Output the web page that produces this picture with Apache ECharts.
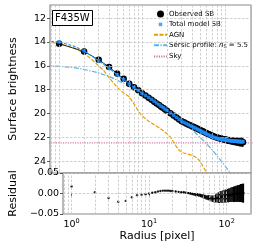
<!DOCTYPE html>
<html><head><meta charset="utf-8">
<script src="https://cdn.jsdelivr.net/npm/echarts@6/dist/echarts.min.js"></script>
<style>html,body{margin:0;padding:0;background:#fff}#c{width:265px;height:250px}</style>
</head><body><div id="c"></div>
<script>
// ---------- data ----------
const radius = [1,2,3,4,5,6,7,8,9,10,11,12,13,14,15,16,17,18,19,20,
  22,24,26,28,30,32,34,36,38,40,42,44,46,48,50,52,54,56,58,60,
  63,66,69,72,75,78,81,84,87,90,93,96,99,102,105,108,111,114,117,120,
  123,126,129,132,135,138,141,144,147,150,153,156,159,162,165];
const obsSB = [14.15,14.80,15.50,16.10,16.65,17.10,17.50,17.80,18.05,18.30,
  18.50,18.68,18.85,19.01,19.16,19.30,19.43,19.55,19.67,19.78,
  19.98,20.17,20.34,20.50,20.65,20.75,20.84,20.92,21.00,21.07,
  21.14,21.21,21.27,21.33,21.39,21.45,21.50,21.56,21.61,21.66,
  21.72,21.79,21.85,21.91,21.96,22.00,22.03,22.06,22.09,22.12,
  22.14,22.17,22.19,22.21,22.23,22.25,22.27,22.28,22.30,22.31,
  22.32,22.33,22.34,22.35,22.36,22.37,22.38,22.38,22.39,22.40,
  22.40,22.41,22.41,22.42,22.42];
const obsErr = [0.01,0.01,0.01,0.01,0.01,0.01,0.01,0.01,0.01,0.01,
  0.02,0.02,0.02,0.02,0.02,0.02,0.02,0.02,0.02,0.02,
  0.02,0.02,0.03,0.03,0.03,0.04,0.04,0.05,0.05,0.06,
  0.06,0.07,0.07,0.08,0.08,0.09,0.10,0.10,0.11,0.12,
  0.13,0.14,0.15,0.17,0.19,0.22,0.24,0.25,0.26,0.27,
  0.27,0.28,0.28,0.29,0.29,0.30,0.30,0.31,0.31,0.32,
  0.32,0.33,0.33,0.34,0.34,0.35,0.35,0.36,0.36,0.37,
  0.37,0.38,0.38,0.39,0.39];
const modelSB = [14.00,14.76,15.58,16.22,16.75,17.16,17.53,17.82,18.07,18.31,
  18.49,18.66,18.82,18.98,19.13,19.27,19.40,19.52,19.64,19.75,
  19.96,20.15,20.33,20.49,20.64,20.75,20.85,20.93,21.02,21.09,
  21.17,21.24,21.31,21.38,21.44,21.51,21.57,21.62,21.68,21.73,
  21.80,21.87,21.93,21.98,22.03,22.07,22.10,22.13,22.15,22.18,
  22.18,22.20,22.22,22.23,22.25,22.26,22.27,22.28,22.29,22.30,
  22.30,22.31,22.32,22.33,22.33,22.34,22.35,22.35,22.36,22.36,
  22.36,22.36,22.37,22.37,22.37];
const residual = [0.017,0.003,-0.011,-0.020,-0.018,-0.009,-0.004,-0.003,-0.002,0.000,
  0.002,0.003,0.005,0.006,0.007,0.007,0.007,0.007,0.006,0.006,
  0.005,0.004,0.003,0.003,0.002,0.001,0.000,-0.001,-0.002,-0.003,
  -0.003,-0.004,-0.005,-0.006,-0.007,-0.008,-0.009,-0.010,-0.010,-0.011,
  -0.012,-0.013,-0.013,-0.012,-0.011,-0.010,-0.009,-0.008,-0.008,-0.007,
  -0.007,-0.006,-0.006,-0.005,-0.005,-0.004,-0.004,-0.003,-0.003,-0.002,
  -0.002,-0.002,-0.001,-0.001,-0.001,0.000,0.000,0.000,0.000,0.001,
  0.001,0.001,0.001,0.001,0.001];
const residErr = [0.0005,0.0005,0.0005,0.0005,0.0005,0.0005,0.0005,0.0005,0.0005,0.0005,
  0.001,0.001,0.001,0.001,0.001,0.001,0.001,0.001,0.001,0.001,
  0.0015,0.0015,0.002,0.002,0.002,0.0025,0.0025,0.003,0.003,0.0035,
  0.0035,0.004,0.004,0.0045,0.005,0.005,0.0055,0.006,0.0065,0.007,
  0.0075,0.008,0.009,0.010,0.011,0.013,0.014,0.014,0.015,0.015,
  0.015,0.016,0.016,0.016,0.017,0.017,0.017,0.018,0.018,0.018,
  0.019,0.019,0.019,0.020,0.020,0.020,0.021,0.021,0.021,0.022,
  0.022,0.022,0.023,0.023,0.023];
const agnR  = [0.7,1,1.5,2,2.5,3,3.5,4,5,6,7,8,9,10,12,14,16,18,20,22,24,26,28,31,35,40,45,50,55,60,65];
const agnSB = [13.95,14.15,14.5,14.95,15.5,16.0,16.45,17.0,17.8,18.3,18.6,19.2,19.8,20.2,20.65,20.95,21.2,21.45,21.7,22.0,22.4,22.8,23.1,23.3,23.4,23.5,23.7,24.0,24.5,25.0,25.5];
const sersicR  = [0.7,1,1.5,2,3,4,5,7,10,15,20,30,40,50,60,70,88,100,115,130];
const sersicSB = [15.98,16.05,16.15,16.3,16.6,16.9,17.2,17.75,18.4,19.2,19.8,20.6,21.35,22.0,22.55,23.05,23.9,24.4,24.95,25.5];
const totalR  = [0.7,1,1.5,2,3,4,5,6,8,10];
const totalSB = [13.93,14.0,14.35,14.76,15.58,16.22,16.75,17.16,17.82,18.31];
const skyR  = [0.5,300];
const skySB = [22.47,22.47];
const yTicks = [12,14,16,18,20,22,24];
const xMajor = [1,10,100];
const xGrid = [0.8,0.9,1,2,3,4,5,6,7,8,9,10,20,30,40,50,60,70,80,90,100,200];
const filterName = 'F435W';

// ---------- chart ----------
const FONT = 'DejaVu Sans';
const GRID_LINE = {color:'#c4c4c4', width:0.8, type:[2.5,1.5]};
const chart = echarts.init(document.getElementById('c'), null, {renderer:'canvas'});
const xBase = {
  type:'log', logBase:10, min:0.776, max:206,
  axisLine:{show:false}, splitLine:{show:false}, minorTick:{show:false},
};
const sup = v => '{b|10}{s|' + Math.round(Math.log10(v)) + '}';
const lineOnly = {opacity:0};
chart.setOption({
  animation:false,
  title:{text:filterName, left:52, top:10, padding:[3,3,2.5,3], borderWidth:1, borderColor:'#000',
    backgroundColor:'#fff', textStyle:{fontFamily:FONT, fontSize:10, fontWeight:'normal', color:'#000'}},
  legend:{
    orient:'vertical', left:151, top:9.5, itemWidth:13, itemHeight:7, itemGap:3.4,
    padding:[1,2,1,2], backgroundColor:'rgba(255,255,255,0.85)',
    textStyle:{fontFamily:FONT, fontSize:7, color:'#000', padding:[0,0,0,-3],
      rich:{i:{fontFamily:FONT, fontSize:7, fontStyle:'italic'}, s:{fontFamily:FONT, fontSize:5, verticalAlign:'bottom', padding:[4,0,0,0]}}},
    formatter: n => n === 'Sérsic' ? 'Sérsic profile: {i|n}{s|S} = 5.5' : n,
    data:[
      {name:'Observed SB', icon:'circle'},
      {name:'Total model SB', icon:'path://M0 0L0 0M26 14L26 14M9.5 3.5h7v7h-7z'},
      {name:'AGN', itemStyle:lineOnly}, {name:'Sérsic', itemStyle:lineOnly}, {name:'Sky', itemStyle:lineOnly}
    ]
  },
  grid:[
    {left:45, right:14, top:5, height:168, show:true, borderColor:'#8a8a8a', borderWidth:1.2, backgroundColor:'transparent'},
    {left:45, right:14, top:173, height:41, show:true, borderColor:'#8a8a8a', borderWidth:1.2, backgroundColor:'transparent'}
  ],
  xAxis:[
    Object.assign({gridIndex:0, axisLabel:{show:false}, axisTick:{show:false}}, xBase),
    Object.assign({gridIndex:1,
      name:'Radius [pixel]', nameLocation:'middle', nameGap:15,
      nameTextStyle:{fontFamily:FONT, fontSize:11, color:'#000'},
      axisTick:{show:true, length:3, lineStyle:{color:'#555'}, customValues:xMajor},
      axisLabel:{fontFamily:FONT, color:'#000', margin:4, customValues:xMajor, formatter:sup,
        rich:{b:{fontFamily:FONT, fontSize:9.5, color:'#000'}, s:{fontFamily:FONT, fontSize:6.5, color:'#000', verticalAlign:'top', padding:[0,0,6,0]}}}
    }, xBase)
  ],
  yAxis:[
    {gridIndex:0, type:'value', inverse:true, min:10.9, max:25,
      name:'Surface brightness', nameLocation:'middle', nameGap:31,
      nameTextStyle:{fontFamily:FONT, fontSize:11, color:'#000'},
      axisLine:{show:false}, splitLine:{show:false},
      axisTick:{show:true, length:3, lineStyle:{color:'#555'}, customValues:yTicks},
      axisLabel:{fontFamily:FONT, fontSize:9.5, color:'#000', margin:4, customValues:yTicks}},
    {gridIndex:1, type:'value', min:-0.05, max:0.05, interval:0.05,
      name:'Residual', nameLocation:'middle', nameGap:31,
      nameTextStyle:{fontFamily:FONT, fontSize:11, color:'#000'},
      axisLine:{show:false},
      splitLine:{show:true, lineStyle:GRID_LINE},
      axisTick:{show:true, length:3, lineStyle:{color:'#555'}},
      axisLabel:{fontFamily:FONT, fontSize:9.5, color:'#000', margin:4,
        formatter: v => (v < -1e-9 ? '\u2212' : '') + Math.abs(v).toFixed(2)}}
  ],
  series:[
    {type:'line', xAxisIndex:0, yAxisIndex:0, data:[], silent:true, z:0,
      markLine:{silent:true, symbol:['none','none'], label:{show:false}, lineStyle:GRID_LINE, animation:false,
        data: xGrid.map(v => ({xAxis:v})).concat(yTicks.map(v => ({yAxis:v})))}},
    {type:'line', xAxisIndex:1, yAxisIndex:1, data:[], silent:true, z:0,
      markLine:{silent:true, symbol:['none','none'], label:{show:false}, lineStyle:GRID_LINE, animation:false,
        data: xGrid.map(v => ({xAxis:v}))}},
    {name:'Sky', type:'line', xAxisIndex:0, yAxisIndex:0, z:1, symbol:'none',
      lineStyle:{color:'#CC79A7', width:1.1, type:[1.2,1.2]}, itemStyle:{color:'#CC79A7'},
      data: skyR.map((r,i)=>[r, skySB[i]])},
    {name:'Sérsic', type:'line', xAxisIndex:0, yAxisIndex:0, z:2, symbol:'none',
      lineStyle:{color:'#56B4E9', width:1.2, type:[5,1.5,1.2,1.5]}, itemStyle:{color:'#56B4E9'},
      data: sersicR.map((r,i)=>[r, sersicSB[i]])},
    {name:'AGN', type:'line', xAxisIndex:0, yAxisIndex:0, z:2, symbol:'none',
      lineStyle:{color:'#E69F00', width:1.2, type:[4,1.5]}, itemStyle:{color:'#E69F00'},
      data: agnR.map((r,i)=>[r, agnSB[i]])},
    {type:'custom', xAxisIndex:0, yAxisIndex:0, z:3, clip:true, silent:true,
      renderItem:(p, api) => {
        const a = api.coord([api.value(0), api.value(1) - api.value(2)]);
        const b = api.coord([api.value(0), api.value(1) + api.value(2)]);
        return {type:'line', shape:{x1:a[0], y1:a[1], x2:b[0], y2:b[1]}, style:{stroke:'#000', lineWidth:1}};
      },
      data: radius.map((r,i)=>[r, obsSB[i], obsErr[i]])},
    {name:'Observed SB', type:'line', xAxisIndex:0, yAxisIndex:0, z:3, symbol:'circle', symbolSize:6.5,
      lineStyle:{color:'#000', width:0.8}, itemStyle:{color:'#000'},
      data: radius.map((r,i)=>[r, obsSB[i]])},
    {type:'line', xAxisIndex:0, yAxisIndex:0, z:4, symbol:'none', silent:true,
      lineStyle:{color:'#1f8fff', width:1.1, type:[3,1.5]},
      data: totalR.map((r,i)=>[r, totalSB[i]])},
    {name:'Total model SB', type:'scatter', xAxisIndex:0, yAxisIndex:0, z:5, symbol:'rect', symbolSize:3.5,
      itemStyle:{color:'#1f8fff'},
      data: radius.map((r,i)=>[r, modelSB[i]])},
    {type:'custom', xAxisIndex:1, yAxisIndex:1, z:3, clip:true, silent:true,
      renderItem:(p, api) => {
        const a = api.coord([api.value(0), api.value(1) - api.value(2)]);
        const b = api.coord([api.value(0), api.value(1) + api.value(2)]);
        return {type:'line', shape:{x1:a[0], y1:a[1], x2:b[0], y2:b[1]}, style:{stroke:'#000', lineWidth:1.2}};
      },
      data: radius.map((r,i)=>[r, residual[i], residErr[i]])},
    {name:'Residual', type:'scatter', xAxisIndex:1, yAxisIndex:1, z:4, symbol:'circle', symbolSize:2.4,
      itemStyle:{color:'#000'},
      data: radius.map((r,i)=>[r, residual[i]])}
  ]
});
</script></body></html>
